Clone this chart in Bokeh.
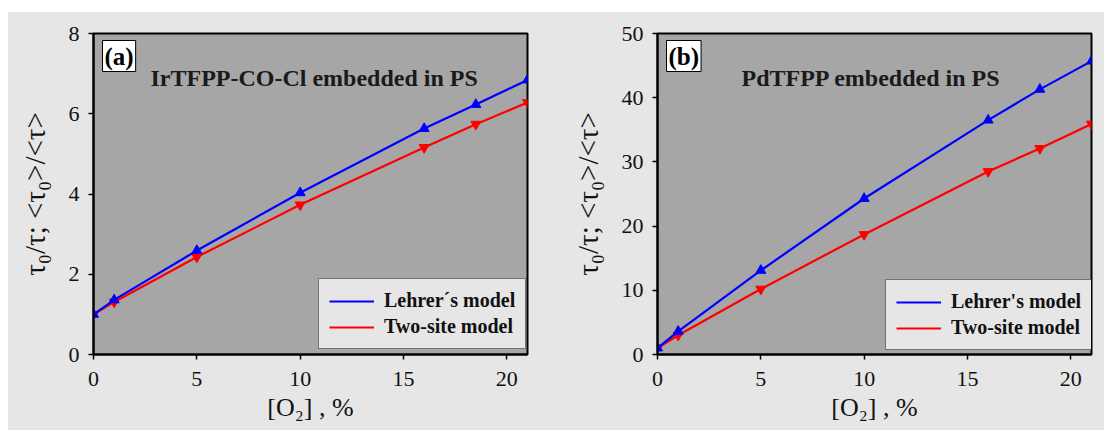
from bokeh.plotting import figure
from bokeh.models import Legend, LegendItem, Label, Range1d, FixedTicker
from bokeh.layouts import row
from bokeh.embed import file_html
from bokeh.resources import INLINE

# ---- data ----
o2 = [0, 1, 5, 10, 16, 18.5, 21]
a_lehrer = [1.0, 1.36, 2.59, 4.03, 5.63, 6.23, 6.84]
a_twosite = [1.0, 1.31, 2.43, 3.73, 5.16, 5.74, 6.28]
b_lehrer = [1.0, 3.6, 13.1, 24.3, 36.5, 41.3, 45.7]
b_twosite = [1.0, 3.0, 10.2, 18.7, 28.5, 32.1, 35.9]
x_ticks = [0, 5, 10, 15, 20]
a_y_ticks = [0, 2, 4, 6, 8]
b_y_ticks = [0, 10, 20, 30, 40, 50]
a_labels = ["Lehrer\u00b4s model", "Two-site model"]
b_labels = ["Lehrer's model", "Two-site model"]

FONT = "Liberation Serif"
OUTER = "#e6e6e6"
INNER = "#a6a6a6"
FW, FH = 434, 321
XMAX = 21


def panel(tag, title, ymax, yticks, lehrer, twosite, labels, left, right,
          title_px, legend_loc):
    p = figure(frame_width=FW, frame_height=FH, x_range=Range1d(0, XMAX),
               y_range=Range1d(0, ymax), output_backend="svg", toolbar_location=None,
               min_border_left=left, min_border_right=right, min_border_top=21,
               min_border_bottom=76, background_fill_color=INNER,
               border_fill_color=OUTER, outline_line_color="black",
               outline_line_width=2)
    p.grid.visible = False
    for ax in (p.xaxis[0], p.yaxis[0]):
        ax.axis_line_color = "black"
        ax.axis_line_width = 2
        ax.major_tick_in = 0
        ax.major_tick_out = 5
        ax.major_tick_line_width = 1.5
        ax.minor_tick_line_color = None
        ax.major_label_text_font = FONT
        ax.major_label_text_font_size = "22px"
        ax.major_label_text_color = "#111111"
        ax.axis_label_text_font = FONT
        ax.axis_label_text_font_style = "normal"
        ax.axis_label_text_color = "#111111"
    p.xaxis.axis_label_text_font_size = "26px"
    p.yaxis.axis_label_text_font_size = "29px"
    p.xaxis.ticker = FixedTicker(ticks=x_ticks)
    p.yaxis.ticker = FixedTicker(ticks=yticks)
    p.xaxis.major_label_standoff = 12
    p.yaxis.major_label_standoff = 9
    p.xaxis.axis_label = "[O\u2082] , %"
    p.yaxis.axis_label = "\u03c4\u2080/\u03c4; <\u03c4\u2080>/<\u03c4>"
    p.xaxis.axis_label_standoff = 4
    p.yaxis.axis_label_standoff = 15

    r_red = p.line(o2, twosite, line_color="#ff0000", line_width=2.2)
    p.scatter(o2, twosite, marker="inverted_triangle", size=10, color="#ff0000")
    r_blue = p.line(o2, lehrer, line_color="#0000ff", line_width=2.2)
    p.scatter(o2, lehrer, marker="triangle", size=10, color="#0000ff")

    def dx(px):
        return px / FW * XMAX

    def dy(py):
        return ymax - py / FH * ymax

    p.add_layout(Label(x=dx(9), y=dy(7), text=tag, text_align="left",
                       text_baseline="top", text_font=FONT, text_font_size="25px",
                       text_font_style="bold", text_color="black",
                       background_fill_color="white", border_line_color="black",
                       border_line_width=1, padding=2))
    p.add_layout(Label(x=dx(title_px), y=dy(44), text=title, text_align="left",
                       text_baseline="alphabetic", text_font=FONT,
                       text_font_size="24px", text_font_style="bold",
                       text_color="#1a1a1a"))

    legend = Legend(items=[LegendItem(label=labels[0], renderers=[r_blue]),
                           LegendItem(label=labels[1], renderers=[r_red])],
                    location=legend_loc, border_line_color="black",
                    border_line_width=1.5, background_fill_color=OUTER,
                    background_fill_alpha=1, label_text_font=FONT,
                    label_text_font_style="bold", label_text_font_size="20px",
                    label_text_color="#111111", glyph_width=45, glyph_height=22,
                    label_height=22, padding=10, spacing=3, margin=0,
                    label_standoff=10)
    p.add_layout(legend)
    return p


pa = panel("(a)", "IrTFPP-CO-Cl embedded in PS", 8, a_y_ticks, a_lehrer, a_twosite,
           a_labels, 85, 33, 57, (225, 5))
pb = panel("(b)", "PdTFPP embedded in PS", 50, b_y_ticks, b_lehrer, b_twosite,
           b_labels, 97, 13, 84, (228, 4))

layout = row(pa, pb, spacing=0, margin=(12, 0, 0, 8),
             styles={"background-color": OUTER})
open("out.html", "w").write(file_html(layout, INLINE))
